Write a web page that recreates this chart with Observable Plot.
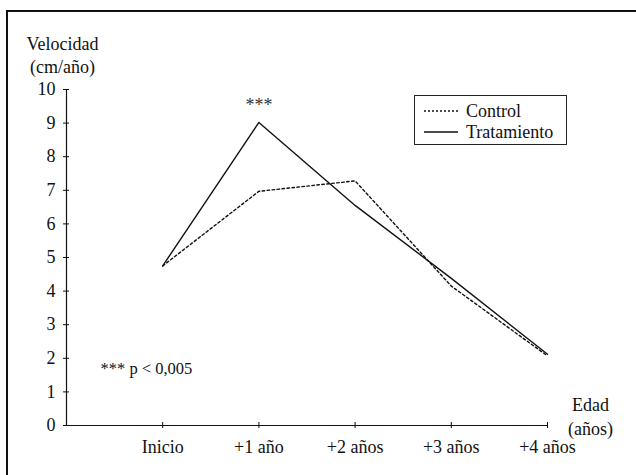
<!DOCTYPE html>
<html>
<head>
<meta charset="utf-8">
<script src="https://cdn.jsdelivr.net/npm/d3@7"></script>
<script src="https://cdn.jsdelivr.net/npm/@observablehq/plot@0.6"></script>
<style>
  html, body { margin: 0; padding: 0; background: #fff; overflow: hidden; }
  #wrap { position: relative; width: 636px; height: 475px; overflow: hidden; font-family: 'Liberation Serif', 'Times New Roman', serif; }
  #border { position: absolute; left: 6px; top: 10px; width: 700px; height: 600px; border: 2px solid #111; box-sizing: border-box; pointer-events: none; }
  #chart { position: absolute; left: 0; top: 0; }
  #legend { position: absolute; left: 414px; top: 95px; width: 153px; height: 50px; border: 1px solid #222; background: #fff; box-sizing: border-box; font-size: 18px; color: #111; }
  #legend .row { position: absolute; left: 9px; display: flex; align-items: center; height: 20px; }
  #legend svg { margin-right: 8px; }
</style>
</head>
<body>
<div id="wrap">
  <div id="chart"></div>
  <div id="border"></div>
  <div id="legend"></div>
</div>
<script>
// ---- data ----
const categories = ["Inicio", "+1 año", "+2 años", "+3 años", "+4 años"];
const controlValues = [4.75, 6.97, 7.28, 4.15, 2.07];
const tratamientoValues = [4.75, 9.02, 6.55, 4.38, 2.12];
const seriesNames = ["Control", "Tratamiento"];
const yTicks = [0, 1, 2, 3, 4, 5, 6, 7, 8, 9, 10];
const xTicks = [1, 2, 3, 4, 5];
const yLabel = "Velocidad\n(cm/año)";
const xLabel = "Edad\n(años)";
const starNote = "***";
const pNote = "*** p < 0,005";

const rows = [];
categories.forEach((c, i) => {
  rows.push({ idx: i + 1, cat: c, value: controlValues[i], serie: seriesNames[0] });
});
categories.forEach((c, i) => {
  rows.push({ idx: i + 1, cat: c, value: tratamientoValues[i], serie: seriesNames[1] });
});
const starRow = [{ idx: 2, value: tratamientoValues[1], label: starNote }];

const font = "'Liberation Serif', 'Times New Roman', serif";

const chart = Plot.plot({
  width: 636,
  height: 475,
  marginLeft: 66,
  marginRight: 89,
  marginTop: 89,
  marginBottom: 50,
  style: { fontFamily: font, fontSize: "18px", color: "#111", background: "transparent" },
  x: { domain: [0, 5] },
  y: { domain: [0, 10] },
  marks: [
    Plot.ruleX([0], { stroke: "#111", strokeWidth: 1.2 }),
    Plot.ruleY([0], { stroke: "#111", strokeWidth: 1.2 }),
    // tick marks crossing the axes
    Plot.axisY({ ticks: yTicks, tickSize: 6, dx: 3, tickFormat: () => "", label: null, stroke: "#111" }),
    Plot.axisY({ ticks: yTicks, tickSize: 0, tickPadding: 11, label: null, fill: "#111" }),
    Plot.axisX({ ticks: xTicks, tickSize: 6, dy: -3, tickFormat: () => "", label: null, stroke: "#111" }),
    Plot.axisX({ ticks: xTicks, tickSize: 0, tickPadding: 15, tickFormat: d => categories[d - 1], label: null, fill: "#111" }),
    Plot.line(rows.filter(d => d.serie === "Control"), {
      x: "idx", y: "value", stroke: "#111", strokeWidth: 1.4, strokeDasharray: "2.5,2.5"
    }),
    Plot.line(rows.filter(d => d.serie === "Tratamiento"), {
      x: "idx", y: "value", stroke: "#111", strokeWidth: 1.4
    }),
    Plot.text(starRow, { x: "idx", y: "value", text: "label", dy: -17, fill: "#333", fontSize: 18 }),
    Plot.text([yLabel], { frameAnchor: "top-left", dx: -4, dy: -55, textAnchor: "middle", lineHeight: 1.25, fill: "#111", fontSize: 18 }),
    Plot.text([xLabel], { frameAnchor: "bottom-right", dx: 43, dy: 9, textAnchor: "middle", lineHeight: 1.28, fill: "#111", fontSize: 18 }),
    Plot.text([pNote], { frameAnchor: "bottom-left", dx: 34, dy: -52, textAnchor: "start", fill: "#111", fontSize: 16.5 })
  ]
});
document.getElementById("chart").appendChild(chart);

// legend
const legend = document.getElementById("legend");
seriesNames.forEach((name, i) => {
  const row = document.createElement("div");
  row.className = "row";
  row.style.top = (i === 0 ? 5 : 26) + "px";
  const dash = i === 0 ? 'stroke-dasharray="2,2"' : "";
  row.innerHTML = `<svg width="34" height="8"><line x1="0" x2="34" y1="4" y2="4" stroke="#111" stroke-width="1.4" ${dash}/></svg><span>${name}</span>`;
  legend.appendChild(row);
});
</script>
</body>
</html>
